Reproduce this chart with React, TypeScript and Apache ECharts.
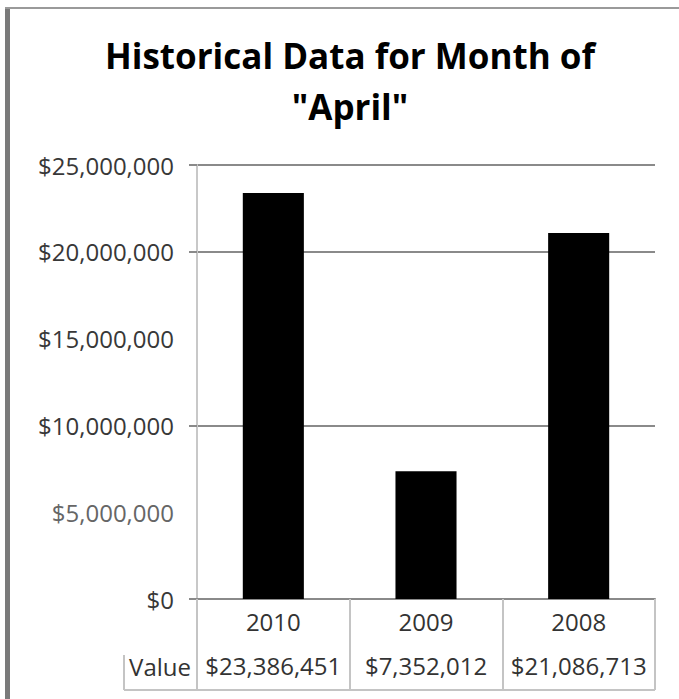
import React, { useEffect, useRef } from "react";
import * as echarts from "echarts";

const categories = ["2010", "2009", "2008"];
const values = [23386451, 7352012, 21086713];
const yTicks = [0, 5000000, 10000000, 15000000, 20000000, 25000000];
const shownGridValues = [0, 10000000, 20000000, 25000000];
const titleText = 'Historical Data for Month of\n"April"';
const rowLabel = "Value";

const money = (v: number) => "$" + Math.round(v).toLocaleString("en-US");

export default function App() {
  const ref = useRef<HTMLDivElement>(null);
  useEffect(() => {
    if (!ref.current) return;
    const chart = echarts.init(ref.current, null, { renderer: "svg" });
    const font = "'Open Sans', Lato, sans-serif";
    const fs = 24;
    chart.setOption({
      animation: false,
      backgroundColor: "#ffffff",
      title: {
        text: titleText,
        left: 345,
        top: 25,
        textAlign: "center",
        textStyle: {
          fontFamily: font,
          fontWeight: "bold",
          fontSize: 35,
          lineHeight: 51,
          color: "#000000",
        },
      },
      grid: { left: 197, right: 24, top: 165, bottom: 100 },
      xAxis: [
        {
          type: "category",
          data: categories,
          position: "bottom",
          axisLine: { show: true, lineStyle: { color: "#8a8a8a", width: 2 } },
          axisTick: {
            show: true,
            alignWithLabel: false,
            length: 91,
            lineStyle: { color: "#c4c4c4", width: 2 },
          },
          axisLabel: {
            margin: 10,
            interval: 0,
            fontFamily: font,
            fontSize: fs,
            color: "#333333",
          },
          splitLine: { show: false },
        },
        {
          type: "category",
          data: values.map(money),
          position: "bottom",
          offset: 44,
          axisLine: { show: false },
          axisTick: { show: false },
          axisLabel: {
            margin: 10,
            interval: 0,
            hideOverlap: false,
            fontFamily: font,
            fontSize: fs,
            color: "#333333",
          },
        },
      ],
      yAxis: {
        type: "value",
        min: 0,
        max: 25000000,
        interval: 5000000,
        axisLine: { show: true, lineStyle: { color: "#c8c8c8", width: 2 } },
        axisTick: {
          show: true,
          length: 8,
          customValues: shownGridValues,
          lineStyle: { color: "#8a8a8a", width: 2 },
        },
        axisLabel: {
          margin: 23,
          fontFamily: font,
          fontSize: fs,
          color: "#383838",
          customValues: yTicks,
          formatter: (v: number) => (v === 5000000 ? "{l|" + money(v) + "}" : money(v)),
          rich: {
            l: { fontFamily: font, fontSize: fs, color: "#666666" },
          },
        },
        splitLine: {
          show: true,
          lineStyle: { width: 2, color: "#8a8a8a" },
        },
      },
      series: [
        {
          type: "bar",
          data: values,
          barWidth: "40%",
          itemStyle: { color: "#000000" },
        },
      ],
      graphic: [
        {
          type: "line",
          shape: { x1: 7.5, y1: 7, x2: 7.5, y2: 699 },
          style: { stroke: "#7a7a7a", lineWidth: 5 },
        },
        {
          type: "line",
          shape: { x1: 5, y1: 8, x2: 679, y2: 8 },
          style: { stroke: "#9a9a9a", lineWidth: 2 },
        },
        {
          type: "line",
          shape: { x1: 124, y1: 690, x2: 655, y2: 690 },
          style: { stroke: "#c4c4c4", lineWidth: 2 },
        },
        {
          type: "line",
          shape: { x1: 124, y1: 655, x2: 124, y2: 690 },
          style: { stroke: "#c4c4c4", lineWidth: 2 },
        },
        {
          type: "text",
          x: 191,
          y: 666,
          style: {
            text: rowLabel,
            fontFamily: font,
            fontSize: fs,
            fill: "#333333",
            textAlign: "right",
            textVerticalAlign: "middle",
          },
        },
      ],
    });
    return () => chart.dispose();
  }, []);
  return (
    <div
      ref={ref}
      style={{ position: "fixed", left: 0, top: 0, width: 679, height: 699 }}
    />
  );
}
